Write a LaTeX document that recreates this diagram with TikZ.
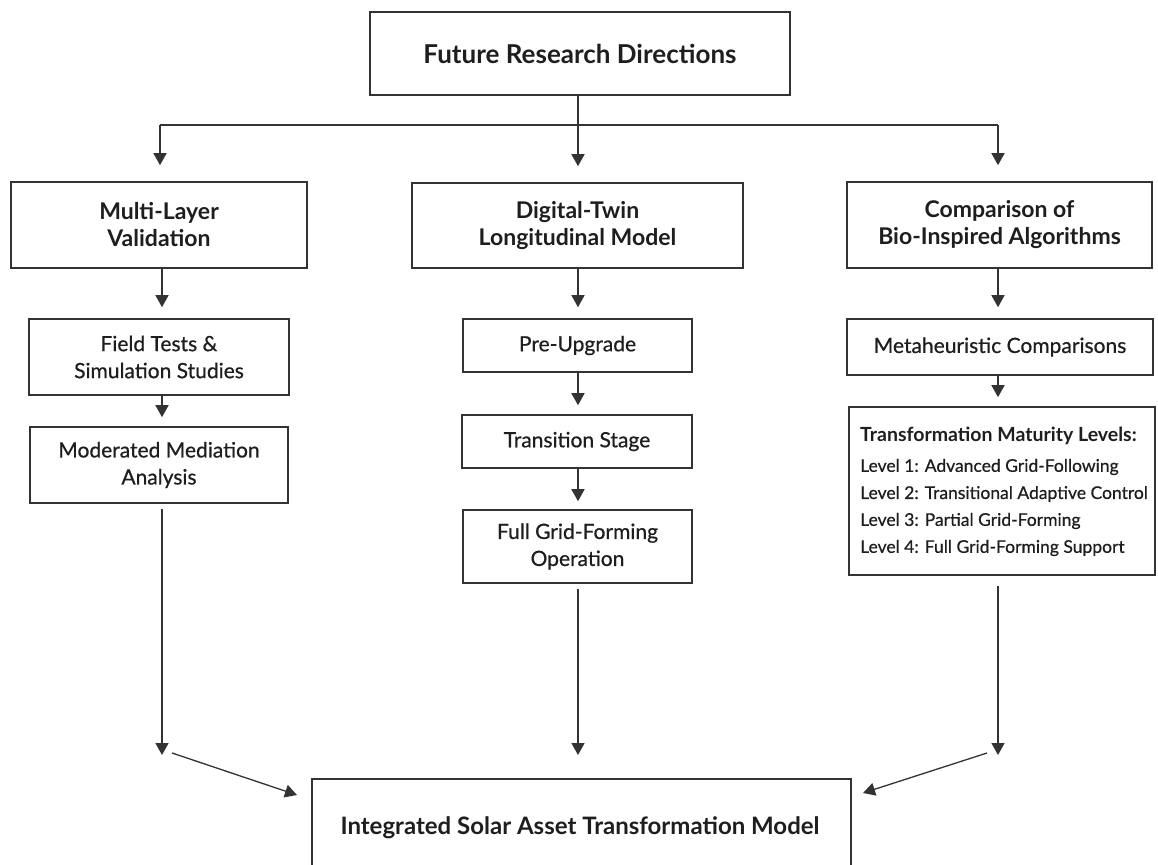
\documentclass[tikz,border=0pt]{standalone}
\usepackage{fontspec}
\setmainfont{Lato}
\newfontfamily\latosemi{Lato}[FakeBold=0.6]
\usetikzlibrary{arrows.meta}
\definecolor{ln}{HTML}{333333}
\definecolor{tx}{HTML}{1E1E1E}
\begin{document}
\begin{tikzpicture}[x=1pt,y=-1pt,
  box/.style={draw=ln,line width=1.6pt,rectangle,inner sep=0pt,align=center,text=tx},
  title/.style={font=\fontsize{23}{27}\selectfont\bfseries},
  sub/.style={font=\fontsize{21}{27}\selectfont\latosemi},
  lvl/.style={anchor=west,inner sep=0pt,text=tx,font=\fontsize{17.5}{20}\selectfont\latosemi},
  arr/.style={draw=ln,line width=1.5pt,-{Triangle[length=12pt,width=13pt]}},
  ln/.style={draw=ln,line width=1.5pt}]
\useasboundingbox (0,0) rectangle (1158,864);
\fill[white] (0,0) rectangle (1158,864);
\begin{scope}
\clip (0,0) rectangle (1158,864);
% boxes
\node[box,minimum width=420pt,minimum height=83pt,font=\fontsize{26}{30}\selectfont\bfseries] (top) at (580,53.5) {Future Research Directions};
\node[box,title,minimum width=296pt,minimum height=86pt] (L1) at (159,225) {Multi-Layer\\Validation};
\node[box,sub,minimum width=260pt,minimum height=76pt] (L2) at (159,357) {Field Tests \&\\Simulation Studies};
\node[box,sub,minimum width=258pt,minimum height=76pt] (L3) at (159,465) {Moderated Mediation\\Analysis};
\node[box,title,minimum width=331pt,minimum height=85pt] (M1) at (577.5,225.5) {Digital-Twin\\Longitudinal Model};
\node[box,sub,minimum width=229pt,minimum height=53pt] (M2) at (577.5,345.5) {Pre-Upgrade};
\node[box,sub,minimum width=230pt,minimum height=53pt] (M3) at (577,441.5) {Transition Stage};
\node[box,sub,minimum width=229pt,minimum height=73pt] (M4) at (577.5,546.5) {Full Grid-Forming\\Operation};
\node[box,title,minimum width=305pt,minimum height=86pt] (R1) at (999.5,225) {Comparison of\\Bio-Inspired Algorithms};
\node[box,sub,minimum width=306pt,minimum height=56pt] (R2) at (1000,347) {Metaheuristic Comparisons};
\node[box,minimum width=306pt,minimum height=168pt] (R3) at (1002,491) {};
\node[lvl,font=\fontsize{19.5}{22}\selectfont\bfseries] (R3h) at (860,436) {Transformation Maturity Levels:};
\node[lvl] (lv1) at (860,467) {Level 1: Advanced Grid-Following};
\node[lvl] (lv2) at (860,494) {Level 2: Transitional Adaptive Control};
\node[lvl] (lv3) at (860,521) {Level 3: Partial Grid-Forming};
\node[lvl] (lv4) at (860,548) {Level 4: Full Grid-Forming Support};
\node[box,minimum width=539pt,minimum height=101pt] (B) at (581.5,829.5) {};
\node[font=\fontsize{24}{28}\selectfont\bfseries,text=tx] (Bt) at (580,828) {Integrated Solar Asset Transformation Model};
\end{scope}
% coordinates
\coordinate (hL) at (160,125);
\coordinate (hM) at (578,125);
\coordinate (hR) at (998,125);
\coordinate (eL) at (162,755);
\coordinate (eM) at (578,755);
\coordinate (eR) at (998,755);
\coordinate (dLs) at (172,753);
\coordinate (dLe) at (297,795);
\coordinate (dRs) at (987,753);
\coordinate (dRe) at (863,793);
% connectors
\draw[ln] (top.south -| hM) -- (hM);
\draw[ln] (hL) -- (hR);
\draw[arr,shorten >=16pt] (hL) -- (hL |- L1.north);
\draw[arr,shorten >=16pt] (hM) -- (hM |- M1.north);
\draw[arr,shorten >=16pt] (hR) -- (hR |- R1.north);
\draw[arr,shorten >=11pt] (L1.south -| eL) -- (L2.north -| eL);
\draw[arr,shorten >=9pt] (L2.south -| eL) -- (L3.north -| eL);
\draw[arr,shorten >=11pt] (M1.south -| eM) -- (M2.north -| eM);
\draw[arr,shorten >=9pt] (M2.south -| eM) -- (M3.north -| eM);
\draw[arr,shorten >=8pt] (M3.south -| eM) -- (M4.north -| eM);
\draw[arr,shorten >=11pt] (R1.south -| eR) -- (R2.north -| eR);
\draw[arr,shorten >=9pt] (R2.south -| eR) -- (R3.north -| eR);
\draw[arr,shorten <=5pt] (L3.south -| eL) -- (eL);
\draw[arr,shorten <=5pt] (M4.south -| eM) -- (eM);
\draw[arr,shorten <=10pt] (R3.south -| eR) -- (eR);
\draw[arr,line width=1.3pt] (dLs) -- (dLe);
\draw[arr,line width=1.3pt] (dRs) -- (dRe);
\end{tikzpicture}
\end{document}
